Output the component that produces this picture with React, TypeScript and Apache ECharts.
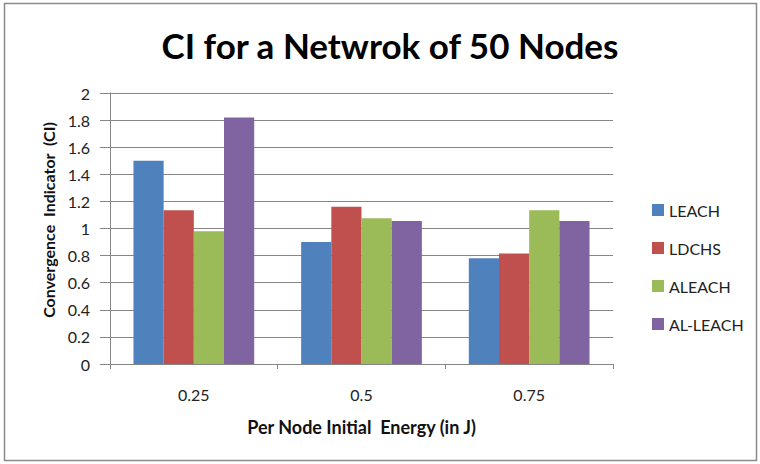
import React, { useEffect, useRef } from "react";
import * as echarts from "echarts";

const categories = ["0.25", "0.5", "0.75"];
const seriesNames = ["LEACH", "LDCHS", "ALEACH", "AL-LEACH"];
const leach = [1.5, 0.9, 0.78];
const ldchs = [1.135, 1.16, 0.815];
const aleach = [0.98, 1.075, 1.135];
const alLeach = [1.82, 1.055, 1.055];
const colors = ["#4F81BD", "#C0504D", "#9BBB59", "#8064A2"];

const FONT = "Lato, 'Noto Sans', sans-serif";

export default function App() {
  const ref = useRef<HTMLDivElement>(null);
  useEffect(() => {
    if (!ref.current) return;
    const chart = echarts.init(ref.current, null, { renderer: "svg" });
    const values = [leach, ldchs, aleach, alLeach];
    chart.setOption({
      animation: false,
      backgroundColor: "#ffffff",
      textStyle: { fontFamily: FONT },
      title: {
        text: "CI for a Netwrok of 50 Nodes",
        left: 385,
        textAlign: "center",
        top: 22,
        textStyle: { fontFamily: FONT, fontSize: 35, fontWeight: "bold", color: "#000" },
      },
      graphic: [
        {
          type: "rect",
          shape: { x: 4.5, y: 3.5, width: 752, height: 457 },
          style: { fill: "none", stroke: "#8a8a8a", lineWidth: 1.5 },
          silent: true,
        },
        {
          type: "text",
          x: 48,
          y: 220,
          rotation: Math.PI / 2,
          style: {
            text: "Convergence  Indicator  (CI)",
            fontFamily: FONT,
            fontSize: 16,
            fontWeight: "bold",
            fill: "#111",
            align: "center",
            verticalAlign: "middle",
          },
        },
      ],
      legend: {
        orient: "vertical",
        left: 647,
        top: 197,
        itemWidth: 12,
        itemHeight: 12,
        itemGap: 22,
        icon: "rect",
        textStyle: { fontFamily: FONT, fontSize: 16, color: "#222" },
        data: seriesNames,
      },
      grid: { left: 110, right: 147, top: 93, bottom: 100 },
      xAxis: {
        type: "category",
        data: categories,
        name: "Per Node Initial  Energy (in J)",
        nameLocation: "middle",
        nameGap: 54,
        nameTextStyle: { fontFamily: FONT, fontSize: 18, fontWeight: "bold", color: "#111" },
        axisLine: { show: true, lineStyle: { color: "#868686", width: 1 } },
        axisTick: { show: true, length: 5, lineStyle: { color: "#868686" } },
        axisLabel: { margin: 22, fontFamily: FONT, fontSize: 16, color: "#222" },
      },
      yAxis: {
        type: "value",
        min: 0,
        max: 2,
        interval: 0.2,
        axisLine: { show: true, lineStyle: { color: "#868686", width: 1 } },
        axisTick: { show: true, length: 10, lineStyle: { color: "#868686" } },
        axisLabel: {
          margin: 20,
          fontFamily: FONT,
          fontSize: 16,
          color: "#222",
          formatter: (v: number) => String(Math.round(v * 10) / 10),
        },
        splitLine: { show: true, lineStyle: { color: "#868686", width: 1 } },
      },
      series: seriesNames.map((name, i) => ({
        name,
        type: "bar",
        data: values[i],
        barGap: "0%",
        barCategoryGap: "28%",
        itemStyle: { color: colors[i] },
      })),
    });
    return () => chart.dispose();
  }, []);
  return (
    <div
      ref={ref}
      style={{ position: "fixed", left: 0, top: 0, width: 760, height: 464 }}
    />
  );
}
